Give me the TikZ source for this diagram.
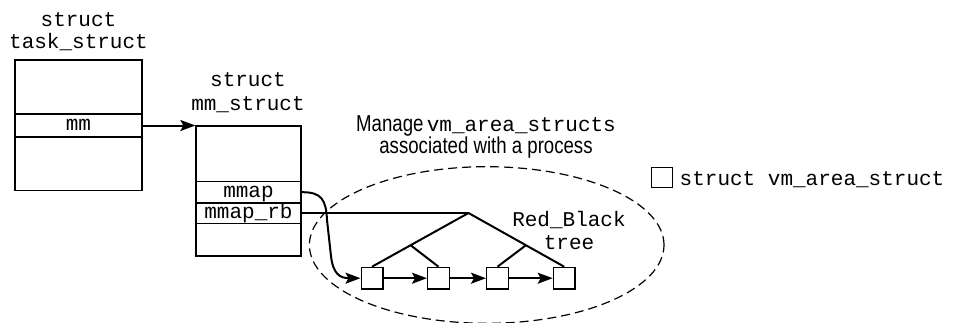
\documentclass[tikz,border=0pt]{standalone}
\usepackage{fontspec}
\setmonofont{Liberation Mono}
\newfontfamily\cond[FakeStretch=0.81]{Liberation Sans}
\usetikzlibrary{arrows.meta,calc}
\begin{document}
\begin{tikzpicture}[x=1pt,y=-1pt,
  mono/.style={font=\ttfamily\fontsize{21pt}{23pt}\selectfont, inner sep=0pt},
  box/.style={draw, line width=1.3pt, inner sep=0pt},
  rowbox/.style={box, font=\ttfamily\fontsize{21pt}{23pt}\selectfont, text height=12pt, text depth=2pt},
  leaf/.style={draw, line width=1.3pt, inner sep=0pt, minimum width=21.7pt, minimum height=21.7pt},
  tline/.style={line width=2pt},
  arr/.style={line width=2pt, -{Stealth[length=15pt,width=11pt,inset=3pt]}},
  lbl/.style={inner sep=0pt, anchor=base}]
\useasboundingbox (0,0) rectangle (954,322);
% titles
\node[mono, lbl] (t1a) at (78.5,26) {struct};
\node[mono, lbl] (t1b) at (78.5,48.5) {task\_struct};
\node[mono, lbl] (t2a) at (248,86.5) {struct};
\node[mono, lbl] (t2b) at (248,110.5) {mm\_struct};
% task_struct box
\node[box, minimum width=127pt, minimum height=130.7pt] (task) at (78.5,125.35) {};
\node[rowbox, minimum width=127pt, minimum height=23pt] (tmm) at (78.5,125.5) {mm};
% mm_struct box
\node[box, minimum width=105pt, minimum height=130pt] (mms) at (248.5,191) {};
\node[rowbox, minimum width=105pt, minimum height=21pt] (mmap) at (248.5,192.2) {mmap};
\node[rowbox, minimum width=105pt, minimum height=20.6pt] (mmaprb) at (248.5,213) {mmap\_rb};
\draw[line width=2.2pt] (mmap.south west) -- (mmap.south east);
% arrow task -> mm_struct
\draw[arr] (tmm.east) -- (tmm.east -| mms.west);
% ellipse
\draw[line width=1.2pt, dash pattern=on 9pt off 5pt] (486.7,245) ellipse [x radius=177.3pt, y radius=78.3pt];
% caption
\node[lbl] (cap1) at (486,131.7) {{\cond\fontsize{23pt}{25pt}\selectfont Manage} {\ttfamily\fontsize{21pt}{23pt}\selectfont vm\_area\_structs}};
\node[lbl, font=\cond\fontsize{23pt}{25pt}\selectfont] (cap2) at (486,153.5) {associated with a process};
% legend
\node[leaf, minimum width=20.5pt, minimum height=20.5pt] (legsq) at (661.9,177.5) {};
\node[mono, inner sep=0pt, anchor=base west] (legtxt) at (679.5,185) {struct vm\_area\_struct};
% leaves
\node[leaf] (l1) at (372,278.2) {};
\node[leaf] (l2) at (438.5,278.2) {};
\node[leaf] (l3) at (497.5,278.2) {};
\node[leaf] (l4) at (564.2,278.2) {};
% tree
\coordinate (apex) at (468.5,213);
\draw[tline] (mmaprb.east) -- (apex);
\coordinate (in1) at ($(apex)!0.6!(l1.north)$);
\coordinate (in2) at ($(apex)!0.6!(l4.north)$);
\draw[tline] (apex) -- (l1.north);
\draw[tline] (apex) -- (l4.north);
\draw[tline] (in1) -- (l2.north);
\draw[tline] (in2) -- (l3.north);
\draw[arr] (l1.east) -- (l2.west);
\draw[arr] (l2.east) -- (l3.west);
\draw[arr] (l3.east) -- (l4.west);
% mmap curve
\draw[arr] (mmap.east) .. controls (322,192) and (326,200) .. (327,220) -- (331,256) .. controls (333,274) and (340,278.2) .. (l1.west);
% Red_Black tree label
\node[mono, lbl] (rb1) at (569,226) {Red\_Black};
\node[mono, lbl] (rb2) at (569,249) {tree};
\end{tikzpicture}
\end{document}
